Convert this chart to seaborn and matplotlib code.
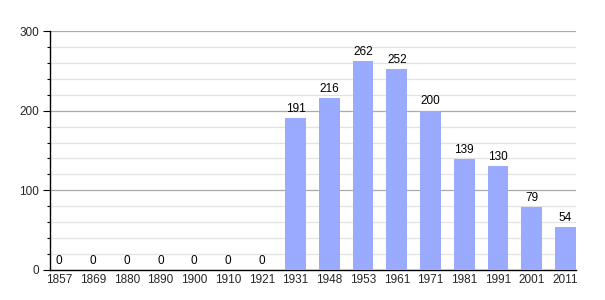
import matplotlib
matplotlib.use("Agg")
import matplotlib.pyplot as plt
import seaborn as sns
import pandas as pd
from matplotlib.ticker import MultipleLocator

years = ["1857", "1869", "1880", "1890", "1900", "1910", "1921", "1931",
         "1948", "1953", "1961", "1971", "1981", "1991", "2001", "2011"]
population = [0, 0, 0, 0, 0, 0, 0, 191, 216, 262, 252, 200, 139, 130, 79, 54]

sns.set_theme(style="white")
plt.rcParams['font.family'] = ['Liberation Sans', 'DejaVu Sans']

df = pd.DataFrame({"year": years, "pop": population})

fig = plt.figure(figsize=(6.05, 3.0), dpi=100)
ax = fig.add_axes([50/605, 1-270/300, (576-50)/605, (270-31)/300])

sns.barplot(data=df, x="year", y="pop", color="#9aabff", saturation=1,
            width=0.62, ax=ax, zorder=3, linewidth=0, edgecolor="none")

ax.set_ylim(0, 300)
ax.set_xlim(-0.274, len(years) - 1 + 0.31)
ax.yaxis.set_major_locator(MultipleLocator(100))
ax.yaxis.set_minor_locator(MultipleLocator(20))
ax.grid(which="major", axis="y", color="#aaaaaa", linewidth=0.9, zorder=0)
ax.grid(which="minor", axis="y", color="#e2e2e2", linewidth=0.9, zorder=0)
ax.set_axisbelow(True)

for s in ["top", "right"]:
    ax.spines[s].set_visible(False)
for s in ["left", "bottom"]:
    ax.spines[s].set_color("black")
    ax.spines[s].set_linewidth(1.0)

ax.tick_params(axis="y", which="major", left=True, length=5, width=0.8,
               color="black", labelsize=8.5, pad=3)
ax.tick_params(axis="y", which="minor", left=True, length=2, width=0.8,
               color="black")
ax.tick_params(axis="x", bottom=False, length=0, labelsize=8.5, pad=3)
ax.set_xlabel("")
ax.set_ylabel("")

for i, v in enumerate(population):
    ax.text(i, v + 4, str(v), ha="center", va="bottom", fontsize=8.5,
            color="black", zorder=4)

fig.savefig("out.png", dpi=100)
